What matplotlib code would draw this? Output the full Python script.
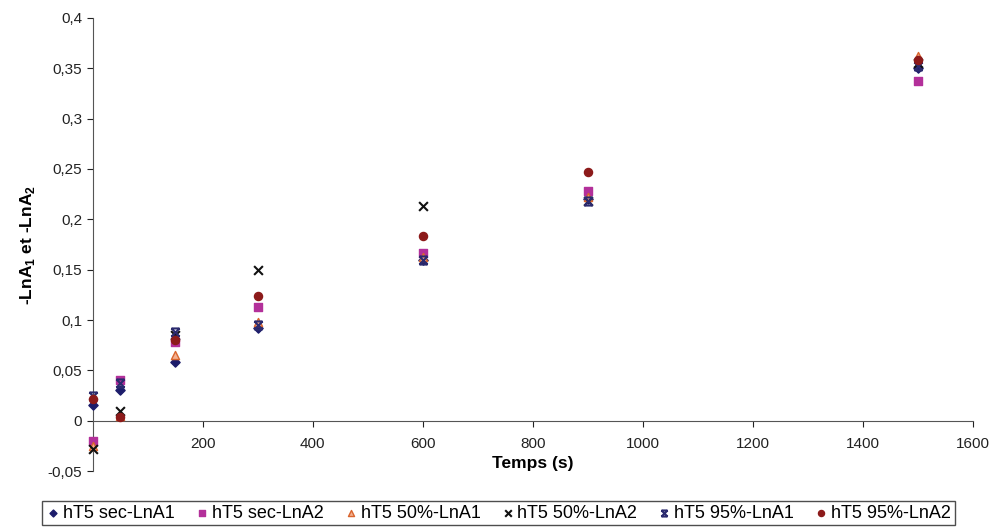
import matplotlib
matplotlib.use("Agg")
import matplotlib.pyplot as plt
from matplotlib.path import Path
from matplotlib.ticker import FuncFormatter

plt.rcParams['font.family'] = ['Liberation Sans', 'DejaVu Sans']

temps = [0, 50, 150, 300, 600, 900, 1500]
sec_lna1 = [0.016, 0.031, 0.058, 0.092, 0.160, 0.220, 0.350]
sec_lna2 = [-0.020, 0.040, 0.078, 0.113, 0.167, 0.228, 0.337]
p50_lna1 = [-0.025, 0.005, 0.065, 0.098, 0.163, 0.222, 0.362]
p50_lna2 = [-0.028, 0.010, 0.085, 0.150, 0.213, 0.218, 0.355]
p95_lna1 = [0.025, 0.038, 0.088, 0.095, 0.160, 0.218, 0.352]
p95_lna2 = [0.022, 0.004, 0.080, 0.124, 0.183, 0.247, 0.358]

labels = ['hT5 sec-LnA1', 'hT5 sec-LnA2', 'hT5 50%-LnA1', 'hT5 50%-LnA2',
          'hT5 95%-LnA1', 'hT5 95%-LnA2']

# Excel-like "star" marker: an X with bars on top and bottom
star_path = Path(
    [(-1, -1), (1, 1), (-1, 1), (1, -1), (-1, 1), (1, 1), (-1, -1), (1, -1)],
    [Path.MOVETO, Path.LINETO, Path.MOVETO, Path.LINETO,
     Path.MOVETO, Path.LINETO, Path.MOVETO, Path.LINETO])

fig = plt.figure(figsize=(9.97, 5.27), dpi=100)
ax = fig.add_axes([0.093, 0.106, 0.883, 0.86])

kw = dict(clip_on=False)
ax.scatter(temps, sec_lna1, marker='D', s=22, color='#1c1c6b', label=labels[0], zorder=3, **kw)
ax.scatter(temps, sec_lna2, marker='s', s=28, color='#b3309a', label=labels[1], zorder=3, **kw)
ax.scatter(temps, p50_lna1, marker='^', s=34, facecolor='#f4b090', edgecolor='#d9652e',
           linewidths=1.0, label=labels[2], zorder=3, **kw)
ax.scatter(temps, p50_lna2, marker='x', s=40, color='#111111', linewidths=1.5,
           label=labels[3], zorder=3, **kw)
ax.scatter(temps, p95_lna1, marker=star_path, s=34, color='#2b2a6e', linewidths=1.5,
           label=labels[4], zorder=3, **kw)
ax.scatter(temps, p95_lna2, marker='o', s=34, color='#8c1a1a', label=labels[5], zorder=4, **kw)

ax.set_xlim(0, 1600)
ax.set_ylim(-0.05, 0.4)
ax.set_xticks(range(200, 1601, 200))
ax.set_yticks([-0.05, 0, 0.05, 0.1, 0.15, 0.2, 0.25, 0.3, 0.35, 0.4])

def comma(v, pos):
    s = ('%.2f' % v).rstrip('0').rstrip('.')
    if s == '-0':
        s = '0'
    return s.replace('.', ',')

ax.yaxis.set_major_formatter(FuncFormatter(comma))
ax.xaxis.set_major_formatter(FuncFormatter(lambda v, p: '%d' % v))

for s in ['top', 'right']:
    ax.spines[s].set_visible(False)
ax.spines['bottom'].set_position(('data', 0))
ax.spines['bottom'].set_color('#555555')
ax.spines['left'].set_color('#555555')
ax.tick_params(axis='both', labelsize=11, colors='#222222', length=4, direction='out')
ax.tick_params(axis='x', pad=8)

ax.set_xlabel('Temps (s)', fontsize=12.5, fontweight='bold', labelpad=3)
ax.set_ylabel('-LnA$_\\mathregular{1}$ et -LnA$_\\mathregular{2}$', fontsize=12.5,
              fontweight='bold', labelpad=8)

leg = fig.legend(loc='lower center', bbox_to_anchor=(0.5, 0.0), ncol=6, fontsize=13,
                 frameon=True, fancybox=False, edgecolor='#222222', handletextpad=0.15,
                 columnspacing=1.1, borderpad=0.2, handlelength=0.8, markerscale=0.75,
                 borderaxespad=0.1)
leg.get_frame().set_linewidth(1.0)

fig.savefig('out.png', dpi=100)
